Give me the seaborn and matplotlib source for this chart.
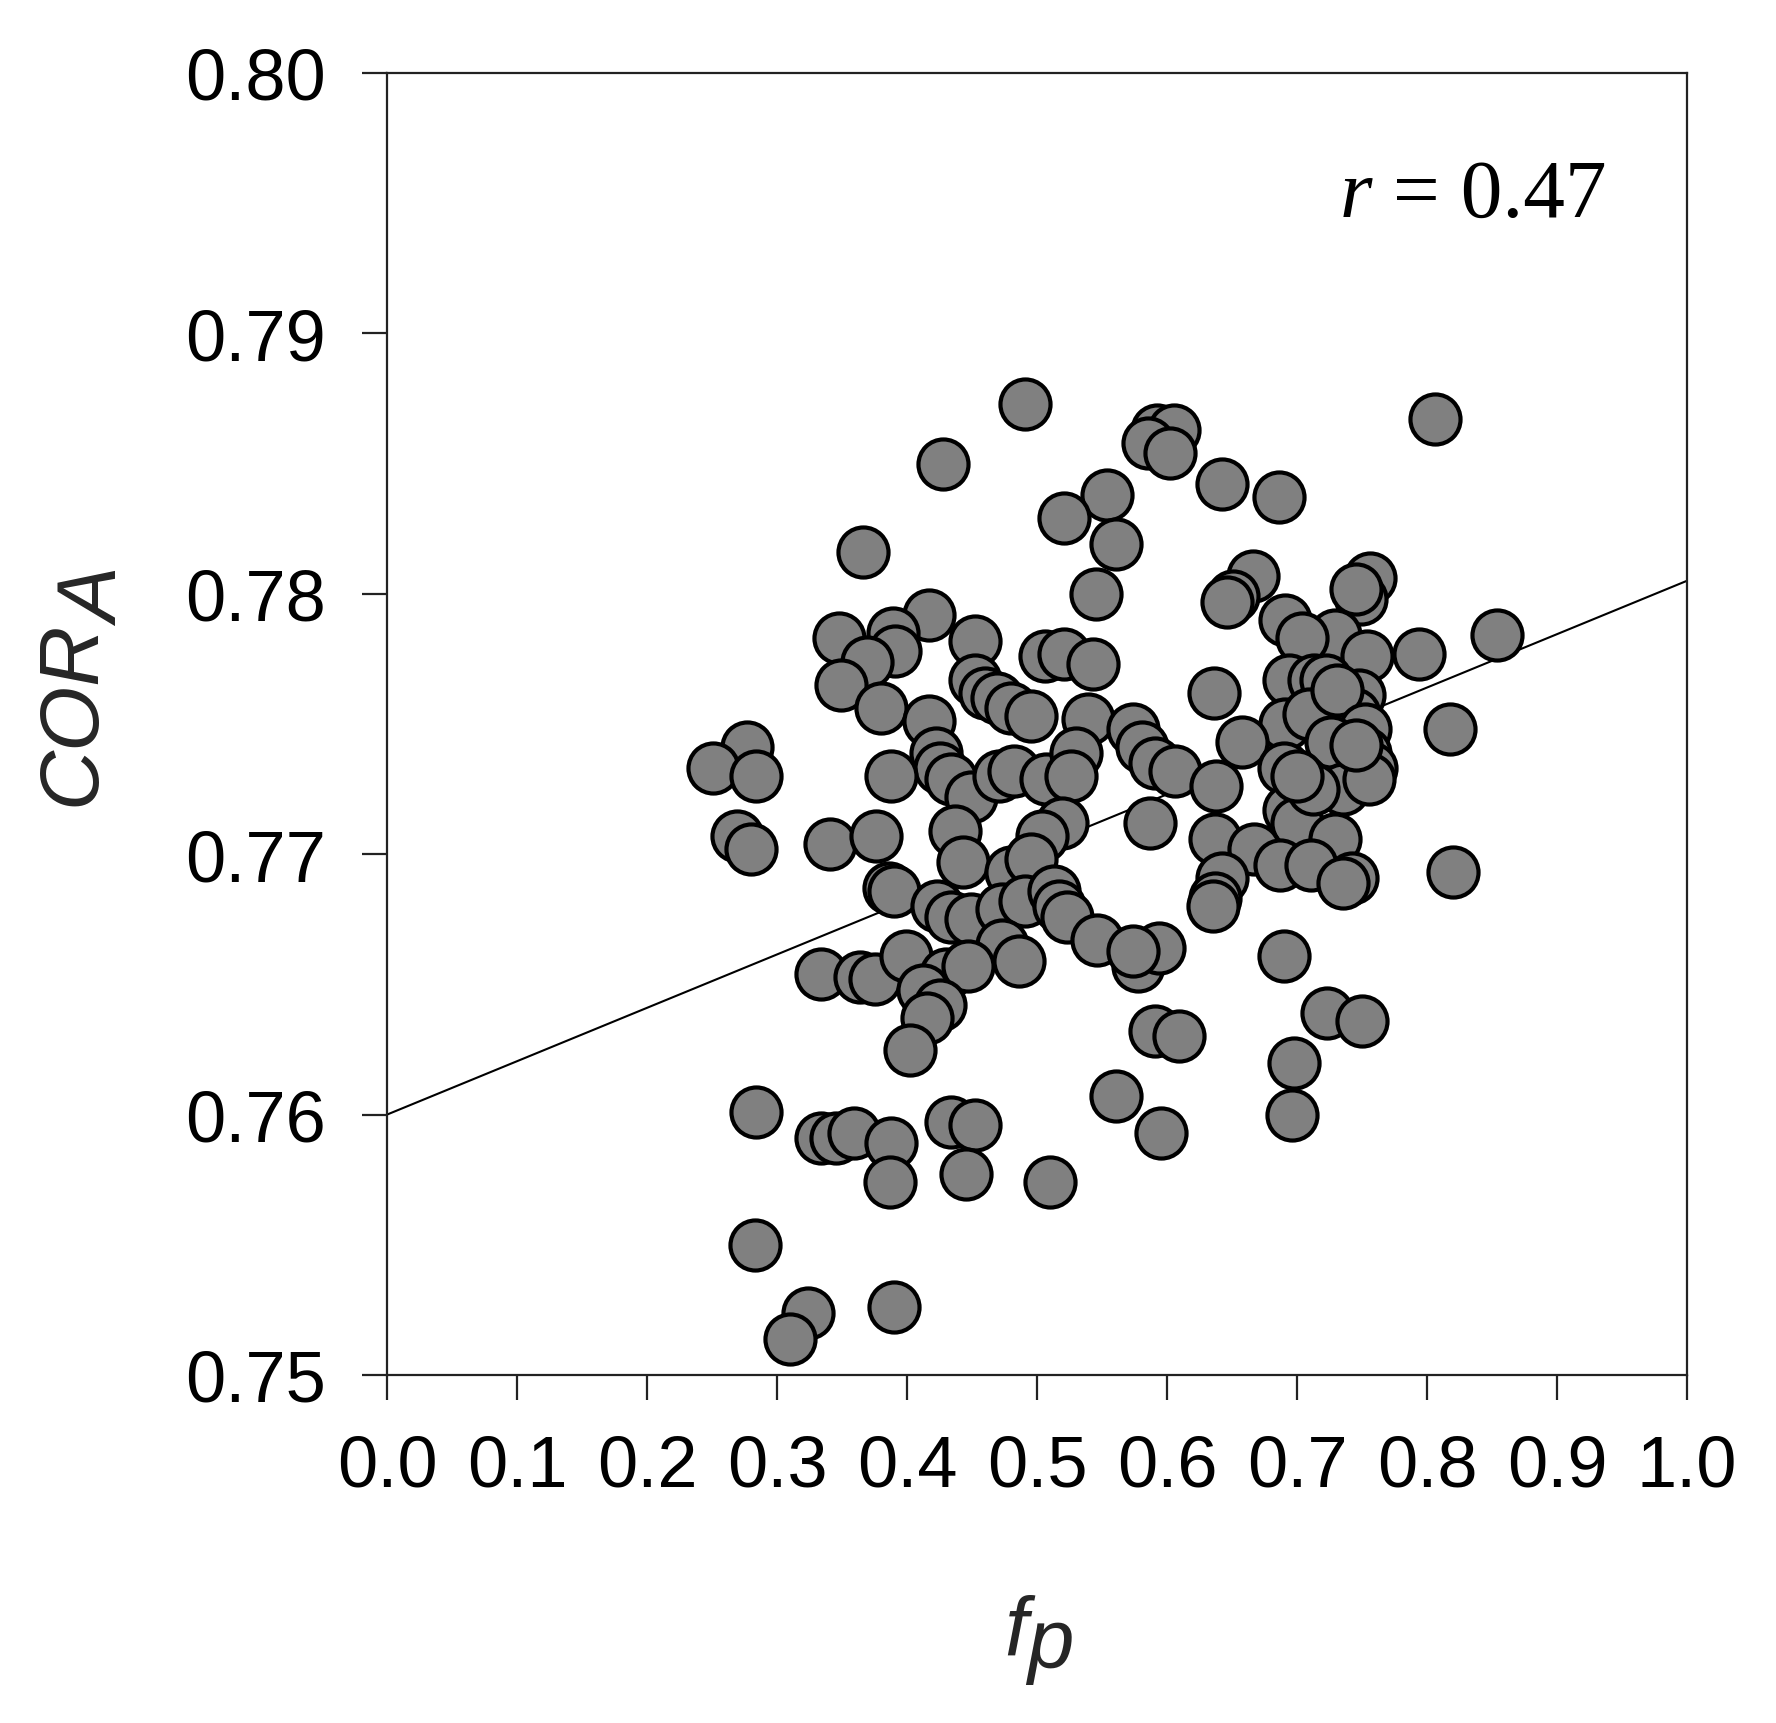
import matplotlib
matplotlib.use("Agg")
import matplotlib.pyplot as plt
import seaborn as sns
import numpy as np

# ---- data ----
fp = [0.491, 0.806, 0.592, 0.605, 0.585, 0.602,
      0.428, 0.642, 0.686, 0.554, 0.521, 0.561,
      0.366, 0.545, 0.666, 0.651, 0.646,
      0.756, 0.749, 0.745,
      0.417, 0.691, 0.348, 0.389, 0.391, 0.452,
      0.854, 0.729, 0.704, 0.506, 0.521, 0.543,
      0.794, 0.754, 0.369, 0.349, 0.380, 0.452,
      0.694, 0.713, 0.722, 0.636, 0.460, 0.469,
      0.480, 0.495, 0.417, 0.539, 0.818, 0.574,
      0.581, 0.748, 0.744, 0.691, 0.709, 0.731,
      0.658, 0.752, 0.752, 0.757, 0.726,
      0.277, 0.251, 0.284, 0.422, 0.425, 0.434,
      0.388, 0.449, 0.471, 0.482, 0.507, 0.530,
      0.526, 0.591, 0.606, 0.638, 0.690, 0.704,
      0.735, 0.755, 0.694, 0.700, 0.587, 0.519,
      0.504, 0.269, 0.280, 0.341, 0.376, 0.437,
      0.443, 0.637, 0.667, 0.729, 0.687, 0.711,
      0.742, 0.735, 0.820, 0.480, 0.495, 0.386,
      0.390, 0.642, 0.637, 0.635, 0.423, 0.434,
      0.449, 0.473, 0.491, 0.513, 0.517, 0.523,
      0.546, 0.473, 0.486, 0.334, 0.364, 0.375,
      0.399, 0.430, 0.447, 0.412, 0.425, 0.415,
      0.402, 0.578, 0.594, 0.574, 0.690, 0.591,
      0.609, 0.723, 0.750, 0.698, 0.561, 0.284,
      0.696, 0.334, 0.345, 0.359, 0.388, 0.387,
      0.434, 0.452, 0.445, 0.595, 0.510, 0.283,
      0.324, 0.310, 0.390,
      0.745, 0.712, 0.700]

cor_a = [0.7873, 0.7867, 0.7863, 0.7863, 0.7858, 0.7854,
         0.7850, 0.7842, 0.7837, 0.7838, 0.7829, 0.7819,
         0.7816, 0.7800, 0.7807, 0.7799, 0.7797,
         0.7806, 0.7798, 0.7802,
         0.7792, 0.7790, 0.7783, 0.7785, 0.7778, 0.7782,
         0.7784, 0.7784, 0.7783, 0.7776, 0.7777, 0.7773,
         0.7777, 0.7776, 0.7774, 0.7765, 0.7756, 0.7767,
         0.7767, 0.7767, 0.7767, 0.7762, 0.7762, 0.7760,
         0.7756, 0.7753, 0.7751, 0.7752, 0.7748, 0.7748,
         0.7741, 0.7761, 0.7754, 0.7750, 0.7754, 0.7763,
         0.7743, 0.7748, 0.7739, 0.7733, 0.7743,
         0.7741, 0.7733, 0.7730, 0.7739, 0.7733, 0.7729,
         0.7730, 0.7722, 0.7730, 0.7732, 0.7729, 0.7739,
         0.7730, 0.7735, 0.7732, 0.7726, 0.7733, 0.7728,
         0.7725, 0.7729, 0.7717, 0.7712, 0.7712, 0.7712,
         0.7707, 0.7707, 0.7702, 0.7704, 0.7707, 0.7709,
         0.7697, 0.7706, 0.7702, 0.7706, 0.7696, 0.7696,
         0.7691, 0.7689, 0.7693, 0.7693, 0.7698, 0.7687,
         0.7686, 0.7691, 0.7683, 0.7680, 0.7680, 0.7676,
         0.7675, 0.7679, 0.7682, 0.7686, 0.7680, 0.7676,
         0.7667, 0.7665, 0.7659, 0.7654, 0.7653, 0.7652,
         0.7661, 0.7654, 0.7657, 0.7648, 0.7642, 0.7637,
         0.7625, 0.7657, 0.7664, 0.7663, 0.7661, 0.7632,
         0.7630, 0.7639, 0.7636, 0.7620, 0.7607, 0.7601,
         0.7600, 0.7591, 0.7591, 0.7593, 0.7589, 0.7574,
         0.7597, 0.7596, 0.7577, 0.7593, 0.7574, 0.7550,
         0.7524, 0.7514, 0.7526,
         0.7742, 0.7725, 0.7730]

# regression line (endpoints)
line_x = [0.0, 1.0]
line_y = [0.7600, 0.7805]

x_ticks = [0.0, 0.1, 0.2, 0.3, 0.4, 0.5, 0.6, 0.7, 0.8, 0.9, 1.0]
x_ticklabels = ["0.0", "0.1", "0.2", "0.3", "0.4", "0.5", "0.6", "0.7", "0.8", "0.9", "1.0"]
y_ticks = [0.75, 0.76, 0.77, 0.78, 0.79, 0.80]
y_ticklabels = ["0.75", "0.76", "0.77", "0.78", "0.79", "0.80"]

r_text = "0.47"

# ---- style ----
sns.set_style("white")
plt.rcParams["font.family"] = ["Liberation Sans", "DejaVu Sans"]

W, H = 1776, 1724
fig = plt.figure(figsize=(W / 100, H / 100), dpi=100)
ax = fig.add_axes([387 / W, 1 - 1376 / H, (1687 - 387) / W, (1376 - 74) / H])

sns.lineplot(x=line_x, y=line_y, ax=ax, color="black", linewidth=1.5, zorder=1)
sns.scatterplot(x=fp, y=cor_a, ax=ax, s=1300, color="#808080",
                edgecolor="black", linewidth=3.0, zorder=2, legend=False)

ax.set_xlim(0.0, 1.0)
ax.set_ylim(0.75, 0.80)
ax.set_xticks(x_ticks)
ax.set_xticklabels(x_ticklabels)
ax.set_yticks(y_ticks)
ax.set_yticklabels(y_ticklabels)
ax.set_xlabel("")
ax.set_ylabel("")

for sp in ax.spines.values():
    sp.set_visible(True)
    sp.set_color("#222222")
    sp.set_linewidth(1.6)

ax.tick_params(axis="both", which="major", direction="out", length=18,
               width=1.6, color="#222222", labelsize=52, labelcolor="black")
ax.tick_params(axis="y", pad=26, left=True)
ax.tick_params(axis="x", pad=24, bottom=True)

# r = 0.47 annotation
t_r = fig.text(1340 / W, 1 - 217 / H, "r", family="Liberation Serif",
               style="italic", fontsize=60, ha="left", va="baseline", color="black")
fig.canvas.draw()
ax.annotate(" = " + r_text, xy=(1, 0), xycoords=t_r, ha="left", va="bottom",
            family="Liberation Serif", fontsize=60, color="black")

# y label: COR with subscript A
fig.text(72 / W, 1 - 713 / H, "COR", rotation=90, ha="center", va="center",
         fontsize=60, style="italic")
fig.text(98 / W, 1 - 598 / H, "A", rotation=90, ha="center", va="center",
         fontsize=60, style="italic")

# x label: f with subscript p
t_f = fig.text(1004 / W, 1 - 1656 / H, "f", ha="left", va="baseline",
               fontsize=60, style="italic")
ax.annotate("p", xy=(1, 0), xycoords=t_f, xytext=(0, -12),
            textcoords="offset pixels", ha="left", va="bottom",
            fontsize=60, style="italic")

fig.savefig("out.png", dpi=100, facecolor="white")
